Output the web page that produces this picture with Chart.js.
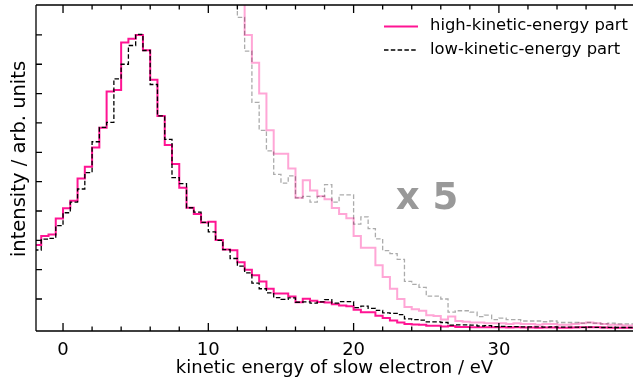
<!DOCTYPE html>
<html>
<head>
<meta charset="utf-8">
<script src="https://cdn.jsdelivr.net/npm/chart.js@4"></script>
<style>
html, body { margin: 0; padding: 0; background: #fff; }
#wrap { width: 633px; height: 379px; }
</style>
</head>
<body>
<div id="wrap"><canvas id="spectrum" width="633" height="379"></canvas></div>
<script>
'use strict';

// histogram bins are 0.5 eV wide, first left edge at -2 eV
var binStart = -2;
var binWidth = 0.5;

// counts in arb. units, one value per bin
var highPart = [
    2.84, 3.15, 3.2, 3.74, 4.09, 4.35, 5.11, 5.51, 6.16, 6.84, 8.07, 8.12, 9.74, 9.87,
    10.0, 9.48, 8.47, 7.24, 6.25, 5.6, 4.79, 4.11, 3.9, 3.61, 3.63, 3.01, 2.69, 2.66,
    2.25, 2.0, 1.81, 1.6, 1.35, 1.19, 1.19, 1.09, 0.89, 1.01, 0.94, 0.9, 0.88, 0.82,
    0.78, 0.75, 0.63, 0.55, 0.55, 0.43,
    0.35, 0.27, 0.2, 0.145, 0.13, 0.12, 0.09, 0.085, 0.06, 0.08, 0.05, 0.045, 0.04, 0.04,
    0.035, 0.035,
    0.035, 0.03, 0.035, 0.03, 0.03, 0.025, 0.03, 0.03, 0.025, 0.025, 0.03, 0.035, 0.04, 0.035,
    0.03, 0.025, 0.025, 0.02, 0.02, 0.02
];
var lowPart = [
    2.67, 3.04, 3.07, 3.5, 3.94, 4.3, 4.75, 5.31, 6.36, 6.85, 7.02, 8.5, 9.0, 9.64,
    10.02, 9.47, 8.31, 7.24, 6.44, 5.14, 4.93, 4.11, 3.96, 3.61, 3.29, 3.0, 2.68, 2.38,
    2.12, 1.89, 1.54, 1.35, 1.21, 1.05, 0.99, 1.04, 0.89, 0.9, 0.86, 0.9, 0.98, 0.86,
    0.91, 0.91, 0.71, 0.76, 0.68, 0.61,
    0.53, 0.51, 0.47, 0.32, 0.3, 0.28, 0.22, 0.22, 0.2, 0.11, 0.12, 0.12, 0.11, 0.08,
    0.09, 0.06,
    0.07, 0.06, 0.06, 0.05, 0.05, 0.05, 0.045, 0.05, 0.04, 0.04, 0.04, 0.035, 0.04, 0.035,
    0.03, 0.035, 0.03, 0.03, 0.03, 0.025
];
var magnify = 5;   // the "x 5" copies of both parts

var xTicks = [0, 10, 20, 30];
var xMinorTicks = [2, 4, 6, 8, 12, 14, 16, 18, 22, 24, 26, 28, 32, 34, 36, 38];
var yTicks = [1, 2, 3, 4, 5, 6, 7, 8, 9, 10];

var PINK = '#ff1493';
var FONT = "'DejaVu Sans', sans-serif";

function stepPoints(values, factor) {
    var pts = values.map(function(v, i) {
        return { x: binStart + i * binWidth, y: v * factor };
    });
    pts.push({ x: binStart + values.length * binWidth, y: values[values.length - 1] * factor });
    return pts;
}

// inward ticks, spines, y label, legend and the "x 5" note
var decorations = {
    id: 'decorations',
    afterDatasetsDraw: function(chart) {
        var ctx = chart.ctx;
        var a = chart.chartArea;
        var xs = chart.scales.x, ys = chart.scales.y;
        ctx.save();
        ctx.strokeStyle = '#000';
        ctx.lineWidth = 1.3;
        ctx.beginPath();
        ctx.moveTo(a.left, a.top); ctx.lineTo(a.left, a.bottom);
        ctx.moveTo(a.left, a.top); ctx.lineTo(a.right, a.top);
        ctx.moveTo(a.left, a.bottom); ctx.lineTo(a.right, a.bottom);
        xTicks.forEach(function(v) {
            var px = xs.getPixelForValue(v);
            ctx.moveTo(px, a.bottom); ctx.lineTo(px, a.bottom - 8);
            ctx.moveTo(px, a.top); ctx.lineTo(px, a.top + 8);
        });
        xMinorTicks.forEach(function(v) {
            var px = xs.getPixelForValue(v);
            ctx.moveTo(px, a.bottom); ctx.lineTo(px, a.bottom - 4.5);
            ctx.moveTo(px, a.top); ctx.lineTo(px, a.top + 4.5);
        });
        yTicks.forEach(function(v) {
            var py = ys.getPixelForValue(v);
            ctx.moveTo(a.left, py); ctx.lineTo(a.left + 6, py);
        });
        ctx.stroke();

        // y axis label
        ctx.fillStyle = '#000';
        ctx.save();
        ctx.translate(20, 159);
        ctx.rotate(-Math.PI / 2);
        ctx.font = '19.5px ' + FONT;
        ctx.textAlign = 'center';
        ctx.textBaseline = 'middle';
        ctx.fillText('intensity / arb. units', 0, 0);
        ctx.restore();

        // legend
        var lx = a.right - 249;
        ctx.lineWidth = 2;
        ctx.strokeStyle = PINK;
        ctx.beginPath(); ctx.moveTo(lx, 26.5); ctx.lineTo(lx + 34, 26.5); ctx.stroke();
        ctx.lineWidth = 1.3;
        ctx.strokeStyle = '#000';
        ctx.setLineDash([4.5, 2.3]);
        ctx.beginPath(); ctx.moveTo(lx, 50); ctx.lineTo(lx + 34, 50); ctx.stroke();
        ctx.setLineDash([]);
        ctx.font = '16.4px ' + FONT;
        ctx.textAlign = 'left';
        ctx.textBaseline = 'middle';
        ctx.fillText('high-kinetic-energy part', lx + 46, 26);
        ctx.fillText('low-kinetic-energy part', lx + 46, 49.5);

        // magnification note
        ctx.fillStyle = '#999999';
        ctx.font = 'bold 37px ' + FONT;
        ctx.fillText('x 5', xs.getPixelForValue(22.9), ys.getPixelForValue(4.4));
        ctx.restore();
    }
};

var chart = new Chart(document.getElementById('spectrum'), {
    type: 'line',
    data: {
        datasets: [
            {
                label: 'low-kinetic-energy part',
                data: stepPoints(lowPart, 1),
                borderColor: '#000',
                borderWidth: 1.3,
                borderDash: [4.5, 2.3],
                order: 0
            },
            {
                label: 'high-kinetic-energy part',
                data: stepPoints(highPart, 1),
                borderColor: PINK,
                borderWidth: 2,
                order: 1
            },
            {
                label: 'low x5',
                data: stepPoints(lowPart, magnify),
                borderColor: 'rgba(0,0,0,0.33)',
                borderWidth: 1.3,
                borderDash: [4.5, 2.3],
                order: 2
            },
            {
                label: 'high x5',
                data: stepPoints(highPart, magnify),
                borderColor: 'rgba(255,20,147,0.38)',
                borderWidth: 2,
                order: 3
            }
        ]
    },
    options: {
        responsive: false,
        animation: false,
        devicePixelRatio: 1,
        layout: { padding: { top: 5, right: 0, left: 0, bottom: 0 } },
        elements: {
            point: { radius: 0 },
            line: { stepped: 'before', tension: 0, fill: false }
        },
        datasets: { line: { clip: 0 } },
        plugins: { legend: { display: false }, tooltip: { enabled: false } },
        scales: {
            x: {
                type: 'linear',
                min: -1.86,
                max: 39.23,
                afterFit: function(s) { s.height = 48; },
                afterBuildTicks: function(s) {
                    s.ticks = xTicks.map(function(v) { return { value: v }; });
                },
                ticks: { color: '#000', font: { family: FONT, size: 18 }, padding: 9, maxRotation: 0, autoSkip: false },
                grid: { display: false, drawTicks: false },
                border: { display: false },
                title: {
                    display: true,
                    text: 'kinetic energy of slow electron / eV',
                    color: '#000',
                    font: { family: FONT, size: 18 },
                    padding: { top: 0, bottom: 0 }
                }
            },
            y: {
                type: 'linear',
                min: -0.09,
                max: 11.02,
                afterFit: function(s) { s.width = 36; },
                ticks: { display: false },
                grid: { display: false, drawTicks: false },
                border: { display: false },
                title: { display: false }
            }
        }
    },
    plugins: [decorations]
});
</script>
</body>
</html>
